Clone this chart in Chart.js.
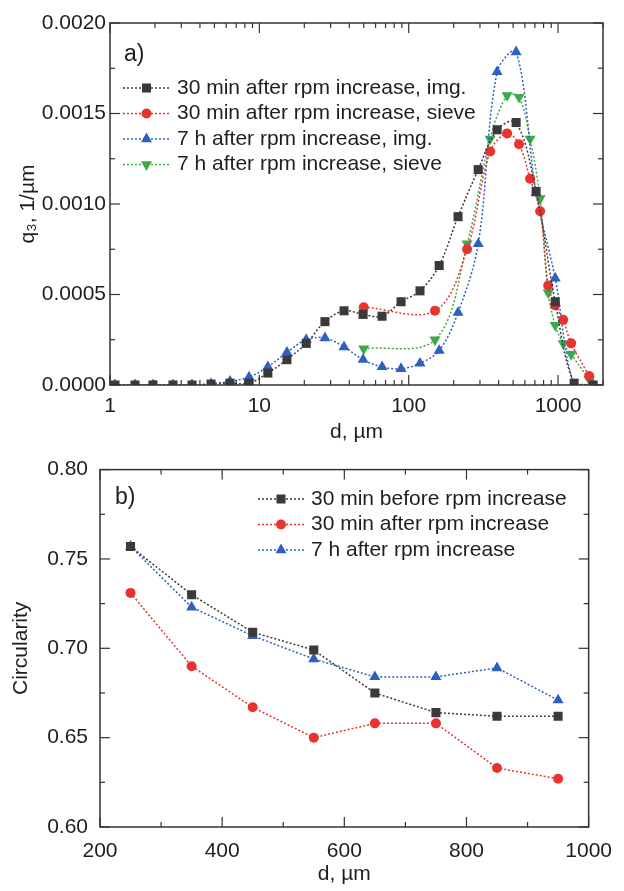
<!DOCTYPE html>
<html>
<head>
<meta charset="utf-8">
<script src="https://cdn.jsdelivr.net/npm/chart.js@4.4.1/dist/chart.umd.min.js"></script>
<style>
  html, body { margin: 0; padding: 0; background: #fff; }
  canvas { display: block; }
</style>
</head>
<body>
<canvas id="psdChart" width="624" height="445"></canvas>
<canvas id="circChart" width="624" height="446"></canvas>
<script>
// a) size distribution, image analysis bins and sieve sizes (um)
const dImg = [1.08, 1.47, 1.94, 2.64, 3.54, 4.75, 6.36, 8.53, 11.4, 15.3, 20.6, 27.5, 36.9,
  49.5, 66.3, 88.9, 119, 160, 214, 292, 391, 524, 713, 957, 1282, 1719];
const q3After30Img = [0, 0, 0, 0, 0, 0.000005, 0.00001, 0.00001, 0.000066, 0.00014, 0.00023, 0.00035, 0.00041,
  0.00039, 0.00038, 0.00046, 0.00052, 0.00066, 0.00093, 0.00119, 0.00141, 0.00145, 0.00107, 0.00046, 0.00001, 0];
const q3After7hImg = [0, 0, 0, 0, 0, 0.000006, 0.00002, 0.000044, 0.0001, 0.00018, 0.00025, 0.00026, 0.00021,
  0.00014, 0.0001, 0.00009, 0.00012, 0.00019, 0.0004, 0.00078, 0.00173, 0.00184, 0.00106, 0.00059, 0, 0];

const dSieve = [50, 150, 246, 351, 456, 548, 650, 759, 859, 957, 1082, 1224, 1616];
const q3After30Sieve = [0.00043, 0.00041, 0.00075, 0.00129, 0.00139, 0.00133, 0.00114, 0.00096, 0.00055, 0.00044, 0.00036, 0.00023, 0.00005];
const q3After7hSieve = [0.0002, 0.00025, 0.00078, 0.00136, 0.0016, 0.00159, 0.00136, 0.00103, 0.00051, 0.00033, 0.00023, 0.00017, 0.00003];

const dLogTicks = [1, 10, 100, 1000];
const q3Ticks = [0, 0.0005, 0.001, 0.0015, 0.002];

// b) circularity per size class
const sizeClass = [250, 350, 450, 550, 650, 750, 850, 950];
const circBefore30 = [0.757, 0.730, 0.709, 0.699, 0.675, 0.664, 0.662, 0.662];
const circAfter30 = [0.731, 0.690, 0.667, 0.650, 0.658, 0.658, 0.633, 0.627];
const circAfter7h = [0.757, 0.723, 0.707, 0.694, 0.684, 0.684, 0.689, 0.671];

const dTicks = [200, 400, 600, 800, 1000];
const circTicks = [0.60, 0.65, 0.70, 0.75, 0.80];

const BLACK = "#3a3a3a";
const RED = "#e8332e";
const BLUE = "#2f5fbf";
const GREEN = "#3daa48";
const FONT = '"Liberation Sans", Arial, sans-serif';
const TEXT = "#1e1e1e";

function pts(xs, ys) {
  return xs.map((x, i) => ({ x: x, y: ys[i] }));
}

function series(label, xs, ys, color, style, rot) {
  return {
    label: label,
    data: pts(xs, ys),
    borderColor: color,
    backgroundColor: color,
    borderWidth: 1.5,
    borderDash: [2, 2],
    pointStyle: style,
    pointRotation: rot || 0,
    pointRadius: style === "circle" ? 5 : 6.4,
    pointBorderWidth: 0,
    pointBackgroundColor: color,
  };
}

// box frame with inward ticks on all four sides
const frameTicks = {
  id: "frameTicks",
  afterDatasetsDraw(chart, args, opts) {
    const { ctx, chartArea: a } = chart;
    const xs = chart.scales.x, ys = chart.scales.y;
    ctx.save();
    ctx.strokeStyle = "#333";
    ctx.lineWidth = 1.5;
    ctx.strokeRect(a.left, a.top, a.right - a.left, a.bottom - a.top);
    ctx.lineWidth = 1.2;
    const seg = (x1, y1, x2, y2) => {
      ctx.beginPath(); ctx.moveTo(x1, y1); ctx.lineTo(x2, y2); ctx.stroke();
    };
    const xt = (vals, len) => vals.forEach(v => {
      const p = xs.getPixelForValue(v);
      if (p < a.left - 0.5 || p > a.right + 0.5) return;
      seg(p, a.bottom, p, a.bottom - len);
      seg(p, a.top, p, a.top + len);
    });
    const yt = (vals, len) => vals.forEach(v => {
      const p = ys.getPixelForValue(v);
      if (p < a.top - 0.5 || p > a.bottom + 0.5) return;
      seg(a.left, p, a.left + len, p);
      seg(a.right, p, a.right - len, p);
    });
    xt(opts.xMajor, 10); xt(opts.xMinor, 5);
    yt(opts.yMajor, 10); yt(opts.yMinor, 5);
    ctx.restore();
  }
};

// legend drawn inside the plot: dotted line with marker, then label
const insideLegend = {
  id: "insideLegend",
  afterDraw(chart, args, opts) {
    const ctx = chart.ctx;
    ctx.save();
    ctx.textBaseline = "middle";
    ctx.textAlign = "left";
    ctx.fillStyle = TEXT;
    ctx.font = "23px " + FONT;
    ctx.fillText(opts.tag, opts.tagX, opts.tagY);
    ctx.font = "21px " + FONT;
    chart.data.datasets.forEach((ds, i) => {
      const y = opts.y + i * opts.gap;
      ctx.strokeStyle = ds.borderColor;
      ctx.lineWidth = 1.5;
      ctx.setLineDash([2, 2]);
      ctx.beginPath(); ctx.moveTo(opts.x, y); ctx.lineTo(opts.x + opts.w, y); ctx.stroke();
      ctx.setLineDash([]);
      ctx.fillStyle = ds.backgroundColor;
      Chart.helpers.drawPoint(ctx, {
        pointStyle: ds.pointStyle, rotation: ds.pointRotation, radius: ds.pointRadius, borderWidth: 0
      }, opts.x + opts.w / 2, y);
      ctx.fillStyle = TEXT;
      ctx.fillText(ds.label, opts.x + opts.w + 7, y);
    });
    ctx.restore();
  }
};

const logMinor = [];
[1, 10, 100, 1000].forEach(dec => { for (let k = 2; k <= 9; k++) logMinor.push(k * dec); });

new Chart(document.getElementById("psdChart"), {
  type: "line",
  data: {
    datasets: [
      series("30 min after rpm increase, img.", dImg, q3After30Img, BLACK, "rect"),
      series("30 min after rpm increase, sieve", dSieve, q3After30Sieve, RED, "circle"),
      series("7 h after rpm increase, img.", dImg, q3After7hImg, BLUE, "triangle"),
      series("7 h after rpm increase, sieve", dSieve, q3After7hSieve, GREEN, "triangle", 180),
    ].map(ds => Object.assign(ds, { tension: 0.35, clip: 0 })),
  },
  options: {
    responsive: false,
    animation: false,
    layout: { padding: { top: 23, right: 21, left: 0, bottom: 0 } },
    plugins: {
      legend: { display: false },
      tooltip: { enabled: false },
      frameTicks: { xMajor: dLogTicks, xMinor: logMinor, yMajor: q3Ticks, yMinor: [0.00025, 0.00075, 0.00125, 0.00175] },
      insideLegend: { tag: "a)", tagX: 124, tagY: 55, x: 123, w: 47, y: 88, gap: 25.5 },
    },
    scales: {
      x: {
        type: "logarithmic",
        min: 1,
        max: 2000,
        afterBuildTicks: s => { s.ticks = dLogTicks.map(v => ({ value: v })); },
        afterFit: s => { s.height = 60; },
        grid: { display: false, drawTicks: false },
        border: { display: false },
        ticks: { font: { family: FONT, size: 21 }, color: TEXT, padding: 9, maxRotation: 0, autoSkip: false, callback: v => String(v) },
        title: { display: true, text: "d, µm", font: { family: FONT, size: 21 }, color: TEXT, padding: 0 },
      },
      y: {
        min: 0,
        max: 0.002,
        afterBuildTicks: s => { s.ticks = q3Ticks.map(v => ({ value: v })); },
        afterFit: s => { s.width = 110; },
        grid: { display: false, drawTicks: false },
        border: { display: false },
        ticks: { font: { family: FONT, size: 21 }, color: TEXT, padding: 4, callback: v => v.toFixed(4) },
        title: { display: true, text: "q₃, 1/µm", font: { family: FONT, size: 21 }, color: TEXT, padding: { top: 16, bottom: 0 } },
      },
    },
  },
  plugins: [frameTicks, insideLegend],
});

new Chart(document.getElementById("circChart"), {
  type: "line",
  data: {
    datasets: [
      series("30 min before rpm increase", sizeClass, circBefore30, BLACK, "rect"),
      series("30 min after rpm increase", sizeClass, circAfter30, RED, "circle"),
      series("7 h after rpm increase", sizeClass, circAfter7h, BLUE, "triangle"),
    ],
  },
  options: {
    responsive: false,
    animation: false,
    layout: { padding: { top: 24, right: 31, left: 0, bottom: 0 } },
    plugins: {
      legend: { display: false },
      tooltip: { enabled: false },
      frameTicks: { xMajor: dTicks, xMinor: [300, 500, 700, 900], yMajor: circTicks, yMinor: [0.625, 0.675, 0.725, 0.775] },
      insideLegend: { tag: "b)", tagX: 115, tagY: 53, x: 258, w: 46, y: 54, gap: 25.5 },
    },
    scales: {
      x: {
        type: "linear",
        min: 200,
        max: 1000,
        afterBuildTicks: s => { s.ticks = dTicks.map(v => ({ value: v })); },
        afterFit: s => { s.height = 64; },
        grid: { display: false, drawTicks: false },
        border: { display: false },
        ticks: { font: { family: FONT, size: 21 }, color: TEXT, padding: 12, maxRotation: 0, autoSkip: false, callback: v => String(v) },
        title: { display: true, text: "d, µm", font: { family: FONT, size: 21 }, color: TEXT, padding: { top: 0, bottom: 4 } },
      },
      y: {
        min: 0.6,
        max: 0.8,
        afterBuildTicks: s => { s.ticks = circTicks.map(v => ({ value: v })); },
        afterFit: s => { s.width = 100; },
        grid: { display: false, drawTicks: false },
        border: { display: false },
        ticks: { font: { family: FONT, size: 21 }, color: TEXT, padding: 12, callback: v => v.toFixed(2) },
        title: { display: true, text: "Circularity", font: { family: FONT, size: 21 }, color: TEXT, padding: { top: 9, bottom: 0 } },
      },
    },
  },
  plugins: [frameTicks, insideLegend],
});
</script>
</body>
</html>
